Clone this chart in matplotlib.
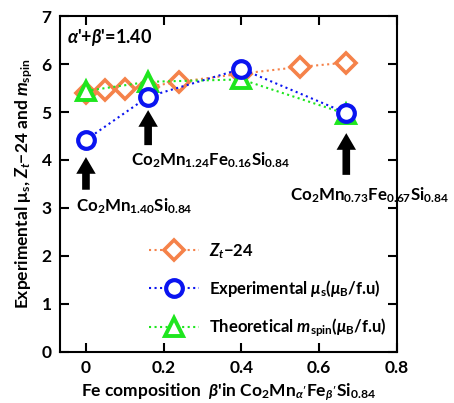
import matplotlib
matplotlib.use("Agg")
import matplotlib.pyplot as plt

plt.rcParams['font.family'] = ['Lato', 'DejaVu Sans']
plt.rcParams['font.weight'] = 'bold'
plt.rcParams['axes.labelweight'] = 'bold'
plt.rcParams['mathtext.fontset'] = 'custom'
plt.rcParams['mathtext.rm'] = 'Lato:bold'
plt.rcParams['mathtext.it'] = 'Lato:bold:italic'
plt.rcParams['mathtext.bf'] = 'Lato:bold'

# data
zt_x = [0.0, 0.05, 0.10, 0.16, 0.24, 0.40, 0.55, 0.67]
zt_y = [5.40, 5.46, 5.49, 5.53, 5.63, 5.80, 5.94, 6.03]
exp_x = [0.0, 0.16, 0.40, 0.67]
exp_y = [4.42, 5.32, 5.90, 4.98]
th_x = [0.0, 0.16, 0.40, 0.67]
th_y = [5.44, 5.63, 5.68, 4.96]

# arrows: (x, tail y, tip y)
arrows = [(0.0, 3.38, 4.06), (0.16, 4.31, 5.04), (0.67, 3.69, 4.56)]
labels = [(-0.025, 3.04, r'Co$_{2}$Mn$_{1.40}$Si$_{0.84}$'),
          (0.115, 3.99, r'Co$_{2}$Mn$_{1.24}$Fe$_{0.16}$Si$_{0.84}$'),
          (0.525, 3.27, r'Co$_{2}$Mn$_{0.73}$Fe$_{0.67}$Si$_{0.84}$')]

orange = '#F5824A'
blue = '#0A14F0'
green = '#1EE61E'

fig = plt.figure(figsize=(4.54, 4.03), dpi=100)
ax = fig.add_axes([0.132, 0.127, 0.742, 0.833])

ax.plot(zt_x, zt_y, ':', color=orange, lw=1.5, marker='D', ms=10, mew=2.6,
        mfc='white', mec=orange, zorder=2, label=r'$Z_t$$-$24')
ax.plot(th_x, th_y, ':', color=green, lw=1.5, marker='^', ms=13, mew=2.8,
        mfc='white', mec=green, zorder=3,
        label=r'Theoretical $m_{\rm spin}$($\mu_{\rm B}$/f.u)')
ax.plot(exp_x, exp_y, ':', color=blue, lw=1.5, marker='o', ms=12, mew=3,
        mfc='white', mec=blue, zorder=4,
        label=r'Experimental $\mu_{\rm s}$($\mu_{\rm B}$/f.u)')

for x, y0, y1 in arrows:
    ax.annotate('', xy=(x, y1), xytext=(x, y0),
                arrowprops=dict(facecolor='black', edgecolor='none', width=5.5,
                                headwidth=14, headlength=12, shrink=0))
for x, y, t in labels:
    ax.text(x, y, t, fontsize=12.2, va='center', ha='left', clip_on=False, zorder=1)

ax.text(-0.05, 6.55, r"$\alpha$'+$\beta$'=1.40", fontsize=13, va='center')

h, l = ax.get_legend_handles_labels()
order = [0, 2, 1]
leg = ax.legend([h[i] for i in order], [l[i] for i in order], frameon=False,
                loc='upper left', bbox_to_anchor=(0.22, 0.375), fontsize=12,
                handlelength=3.0, handletextpad=0.6, labelspacing=1.05)

ax.set_xlim(-0.067, 0.8)
ax.set_ylim(0, 7)
ax.set_xticks([0, 0.2, 0.4, 0.6, 0.8])
ax.set_xticklabels(['0', '0.2', '0.4', '0.6', '0.8'])
ax.set_yticks(range(8))
ax.tick_params(direction='in', top=True, right=True, length=6.5, width=1.5,
               labelsize=12.5, pad=6)
for s in ax.spines.values():
    s.set_linewidth(1.5)

ax.set_xlabel(r"Fe composition  $\beta$'in Co$_{2}$Mn$_{\alpha'}$Fe$_{\beta'}$Si$_{0.84}$",
              fontsize=12.5, labelpad=4)
ax.set_ylabel(r"Experimental $\mathrm{\mu}_{\rm s}$, $Z_t$$-$24 and $m_{\rm spin}$",
              fontsize=12.5, labelpad=5)

fig.savefig('out.png', dpi=100)
